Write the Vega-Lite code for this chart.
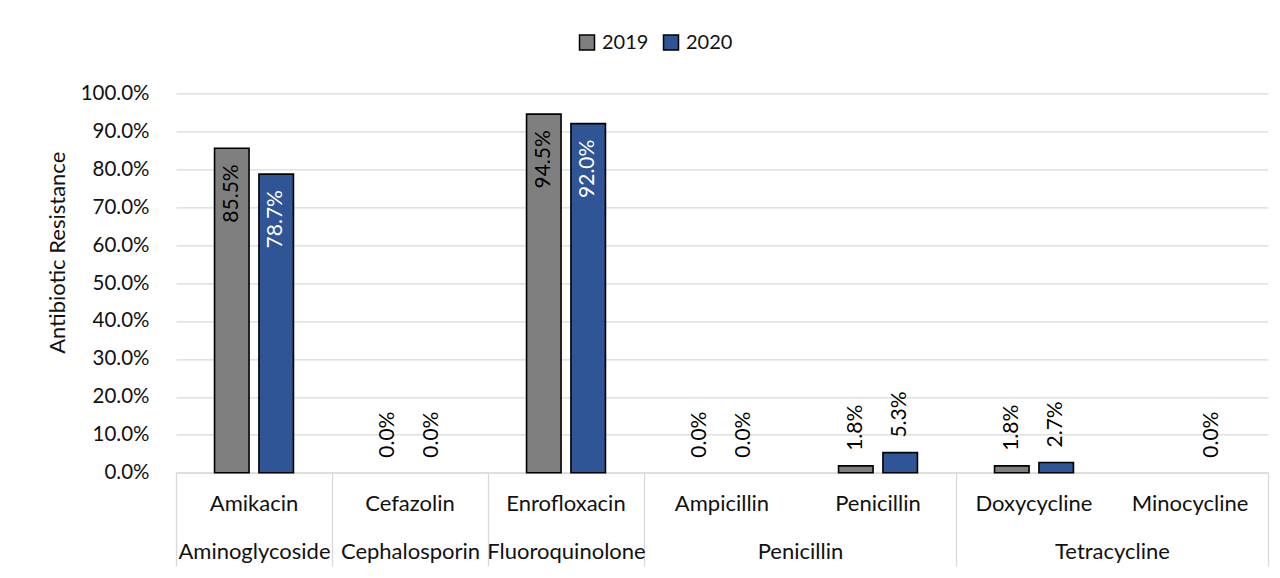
{
  "$schema": "https://vega.github.io/schema/vega-lite/v6.json",
  "width": 1092,
  "height": 379.4,
  "autosize": {"type": "none"},
  "padding": {"left": 176, "top": 93.3, "right": 12, "bottom": 105.3},
  "background": "white",
  "config": {"font": "Lato", "view": {"stroke": null}},
  "data": {
    "values": [
      {"group": "Aminoglycoside", "drug": "Amikacin", "year": "2019", "value": 0.855},
      {"group": "Aminoglycoside", "drug": "Amikacin", "year": "2020", "value": 0.787},
      {"group": "Cephalosporin", "drug": "Cefazolin", "year": "2019", "value": 0.0},
      {"group": "Cephalosporin", "drug": "Cefazolin", "year": "2020", "value": 0.0},
      {"group": "Fluoroquinolone", "drug": "Enrofloxacin", "year": "2019", "value": 0.945},
      {"group": "Fluoroquinolone", "drug": "Enrofloxacin", "year": "2020", "value": 0.92},
      {"group": "Penicillin", "drug": "Ampicillin", "year": "2019", "value": 0.0},
      {"group": "Penicillin", "drug": "Ampicillin", "year": "2020", "value": 0.0},
      {"group": "Penicillin", "drug": "Penicillin", "year": "2019", "value": 0.018},
      {"group": "Penicillin", "drug": "Penicillin", "year": "2020", "value": 0.053},
      {"group": "Tetracycline", "drug": "Doxycycline", "year": "2019", "value": 0.018},
      {"group": "Tetracycline", "drug": "Doxycycline", "year": "2020", "value": 0.027},
      {"group": "Tetracycline", "drug": "Minocycline", "year": "2020", "value": 0.0}
    ]
  },
  "encoding": {
    "y": {
      "field": "value",
      "type": "quantitative",
      "scale": {"domain": [0, 1], "nice": false},
      "axis": {
        "values": [0, 0.1, 0.2, 0.3, 0.4, 0.5, 0.6, 0.7, 0.8, 0.9, 1.0],
        "format": ".1%",
        "title": "Antibiotic Resistance",
        "ticks": false,
        "domain": false,
        "grid": true,
        "gridColor": "#d9d9d9",
        "gridWidth": 1.3,
        "labelFontSize": 20.5,
        "labelColor": "#111111",
        "labelPadding": 27,
        "titleFontSize": 22,
        "titleFontWeight": "normal",
        "titleColor": "#111111",
        "titlePadding": 11,
        "titleY": 159
      }
    }
  },
  "layer": [
    {
      "transform": [{"filter": "datum.value > 0"}],
      "mark": {"type": "bar", "stroke": "#000000", "strokeWidth": 1.6},
      "encoding": {
        "x": {
          "field": "drug",
          "type": "nominal",
          "sort": null,
          "scale": {"domain": ["Amikacin", "Cefazolin", "Enrofloxacin", "Ampicillin", "Penicillin", "Doxycycline", "Minocycline"], "paddingInner": 0, "paddingOuter": 0},
          "axis": {
            "title": null,
            "orient": "bottom",
            "labelAngle": 0,
            "ticks": false,
            "domainColor": "#d9d9d9",
            "domainWidth": 1.3,
            "labelFontSize": 22,
            "labelColor": "#111111",
            "labelPadding": 21,
            "labelOverlap": false
          }
        },
        "xOffset": {"field": "year", "type": "nominal", "scale": {"domain": ["2019", "2020"], "paddingInner": 0.223, "paddingOuter": 0.868}},
        "color": {
          "field": "year",
          "type": "nominal",
          "scale": {"domain": ["2019", "2020"], "range": ["#7f7f7f", "#2f5597"]},
          "legend": {
            "title": null,
            "orient": "none",
            "legendX": 401,
            "legendY": -61,
            "direction": "horizontal",
            "symbolType": "square",
            "symbolSize": 225,
            "symbolStrokeColor": "#000000",
            "symbolStrokeWidth": 1.5,
            "symbolOpacity": 1,
            "labelFontSize": 20,
            "labelColor": "#111111",
            "labelOffset": 5,
            "columnPadding": 11
          }
        }
      }
    },
    {
      "transform": [{"filter": "datum.value > 0.5"}],
      "mark": {"type": "text", "angle": 270, "align": "right", "baseline": "middle", "dx": -16, "fontSize": 21},
      "encoding": {
        "x": {
          "field": "drug",
          "type": "nominal",
          "sort": null,
          "scale": {"domain": ["Amikacin", "Cefazolin", "Enrofloxacin", "Ampicillin", "Penicillin", "Doxycycline", "Minocycline"], "paddingInner": 0, "paddingOuter": 0},
          "axis": null
        },
        "xOffset": {"field": "year", "type": "nominal", "scale": {"domain": ["2019", "2020"], "paddingInner": 0.223, "paddingOuter": 0.868}},
        "text": {"field": "value", "type": "quantitative", "format": ".1%"},
        "color": {"condition": {"test": "datum.year === '2020'", "value": "#ffffff"}, "value": "#000000"}
      }
    },
    {
      "transform": [{"filter": "datum.value <= 0.5"}],
      "mark": {"type": "text", "angle": 270, "align": "left", "baseline": "middle", "dx": 15, "fontSize": 21, "color": "#000000"},
      "encoding": {
        "x": {
          "field": "drug",
          "type": "nominal",
          "sort": null,
          "scale": {"domain": ["Amikacin", "Cefazolin", "Enrofloxacin", "Ampicillin", "Penicillin", "Doxycycline", "Minocycline"], "paddingInner": 0, "paddingOuter": 0},
          "axis": {
            "title": null,
            "orient": "bottom",
            "domain": false,
            "labelAngle": 0,
            "tickBand": "extent",
            "tickSize": 93.3,
            "tickColor": "#d9d9d9",
            "tickWidth": 1.3,
            "tickOpacity": {"condition": {"test": "datum.value === 'Ampicillin' || datum.value === 'Doxycycline'", "value": 0}, "value": 1},
            "labelExpr": "datum.value === 'Amikacin' ? 'Aminoglycoside' : datum.value === 'Cefazolin' ? 'Cephalosporin' : datum.value === 'Enrofloxacin' ? 'Fluoroquinolone' : datum.value === 'Ampicillin' ? 'Penicillin' : datum.value === 'Doxycycline' ? 'Tetracycline' : ''",
            "labelOffset": {"condition": {"test": "datum.value === 'Ampicillin' || datum.value === 'Doxycycline'", "value": 78}, "value": 0},
            "labelBaseline": "alphabetic",
            "labelPadding": -8,
            "labelFontSize": 22,
            "labelColor": "#111111",
            "labelOverlap": false
          }
        },
        "xOffset": {"field": "year", "type": "nominal", "scale": {"domain": ["2019", "2020"], "paddingInner": 0.223, "paddingOuter": 0.868}},
        "text": {"field": "value", "type": "quantitative", "format": ".1%"}
      }
    }
  ],
  "resolve": {"scale": {"x": "independent"}, "axis": {"x": "independent"}}
}
